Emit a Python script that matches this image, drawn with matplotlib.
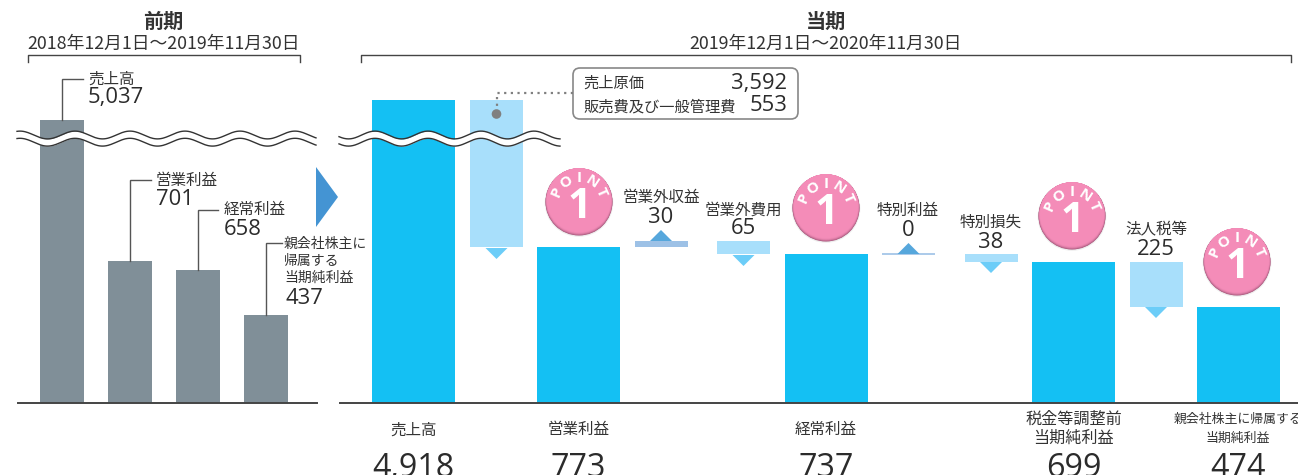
import numpy as np
import matplotlib
matplotlib.use("Agg")
import matplotlib.pyplot as plt
from matplotlib.patches import Polygon, Circle, FancyBboxPatch

JP = ['Noto Sans CJK JP', 'DejaVu Sans']
NUM = ['Open Sans', 'DejaVu Sans']
INK = '#333333'

# ---- data ----
prev_labels = ['売上高', '営業利益', '経常利益', '親会社株主に\n帰属する\n当期純利益']
prev_values = [5037, 701, 658, 437]

total_positions = [0, 2, 5, 8, 10]
total_values = [4918, 773, 737, 699, 474]
total_labels = ['売上高', '営業利益', '経常利益', '税金等調整前\n当期純利益', '親会社株主に帰属する\n当期純利益']

step_positions = [1, 3, 4, 6, 7, 9]
step_values = [-4145, 30, -65, 0, -38, -225]
step_tops = [4918, 803, 803, 737, 737, 699]
step_labels = ['', '営業外収益', '営業外費用', '特別利益', '特別損失', '法人税等']

cost_labels = ['売上原価', '販売費及び一般管理費']
cost_values = [3592, 553]

W, H = 1298, 475
BASE = 403
SCALE = 0.202
fig = plt.figure(figsize=(W / 100, H / 100), dpi=100, facecolor='white')


def broken_axes(x0, x1, value_top, shown_top, xlim):
    brk = 900.0
    k = (shown_top - brk) / (value_top - brk)
    fwd = lambda v: np.where(np.asarray(v, float) <= brk, v, brk + (np.asarray(v, float) - brk) * k)
    inv = lambda v: np.where(np.asarray(v, float) <= brk, v, brk + (np.asarray(v, float) - brk) / k)
    ax = fig.add_axes([x0 / W, 1 - BASE / H, (x1 - x0) / W, BASE / H])
    ax.set_yscale('function', functions=(fwd, inv))
    ax.set_ylim(0, float(inv(BASE / SCALE)))
    ax.set_xlim(*xlim)
    ax.set_xticks([])
    ax.set_yticks([])
    ax.minorticks_off()
    for name, sp in ax.spines.items():
        sp.set_visible(name == 'bottom')
    ax.spines['bottom'].set_color('#444444')
    ax.spines['bottom'].set_linewidth(1.4)
    ax.patch.set_alpha(0)
    return ax


# left axes: bars centred at 62, 130, 198, 266 px
axL = broken_axes(18, 317, 5037, 283 / SCALE, ((18 - 62) / 68, (317 - 62) / 68))
axL.bar(range(4), prev_values, width=44 / 68, color='#808f98')

# right axes: bars centred 413.8 + 82.5 i px
axR = broken_axes(340, 1298, 4918, 303 / SCALE, ((340 - 413.8) / 82.5, (1298 - 413.8) / 82.5))
axR.bar(total_positions, total_values, width=83 / 82.5, color='#14c0f3')
for p, v, t in zip(step_positions, step_values, step_tops):
    up = v > 0
    bottom = t - abs(v)
    col = '#9dc1e6' if (up or v == 0) else '#a8dffb'
    if v == 0:
        axR.plot([p - 0.32, p + 0.32], [t, t], color=col, lw=1.2, solid_capstyle='butt')
    else:
        axR.bar(p, abs(v), bottom=bottom, width=53 / 82.5, color=col)

# overlay in pixel coordinates for annotation furniture
ov = fig.add_axes([0, 0, 1, 1], zorder=5)
ov.set_xlim(0, W)
ov.set_ylim(H, 0)
ov.axis('off')


def label(x, y, s, size=11.2, ha='center', va='center', **kw):
    ov.text(x, y + 0.7, s, fontsize=size, ha=ha, va=va, color=INK, family=JP, **kw)


def number(x, y, v, size=15.8, ha='center'):
    ov.text(x, y, f'{v:,}', fontsize=size, ha=ha, va='baseline', color='#2b2b2b', family=NUM)


def wave(x0, x1, crest, period):
    x = np.linspace(x0, x1, 300)
    s = np.cos(2 * np.pi * (x - crest) / period) * 3.9
    up, lo = 135.0 - s, 142.2 - s
    ov.fill_between(x, up, lo, color='white', lw=0, zorder=3)
    ov.plot(x, up, color='#333333', lw=1.0, zorder=4)
    ov.plot(x, lo, color='#333333', lw=1.0, zorder=4)


wave(17, 316, 20, 55)
wave(339, 560, 375, 53)

# period headers
label(163, 21, '前期', size=14.5, fontweight='bold')
label(164, 43.5, '2018年12月1日〜2019年11月30日', size=12.8)
label(826, 21, '当期', size=14.5, fontweight='bold')
label(826, 43.5, '2019年12月1日〜2020年11月30日', size=12.8)
for a, b in [(28, 300), (361, 1291)]:
    ov.plot([a, a, b, b], [62, 55, 55, 62], color='#444444', lw=1.0)

# previous-year leaders
leaders = [(62, 120, 79, 83), (130, 261, 180, 151), (198, 270, 210, 218), (266, 315, 243, 282)]
for x, y0, y1, x1 in leaders:
    ov.plot([x, x, x1], [y0, y1, y1], color='#555555', lw=1.0, solid_joinstyle='miter')
label(88, 78, prev_labels[0], ha='left')
number(88, 103, prev_values[0], ha='left')
label(156, 180, prev_labels[1], ha='left')
number(156, 205, prev_values[1], ha='left')
label(224, 209, prev_labels[2], ha='left')
number(224, 235, prev_values[2], ha='left')
for yy, s in zip([243, 260, 277], prev_labels[3].split('\n')):
    label(284, yy, s, size=10, ha='left')
number(285, 304, prev_values[3], ha='left')

# change arrow
ov.add_patch(Polygon([(316, 167), (338, 197), (316, 227)], fc='#4494d3', ec='none'))

# callout
ov.add_patch(FancyBboxPatch((577, 72), 217, 43, boxstyle='round,pad=4,rounding_size=7',
                            fc='white', ec='#888888', lw=1.2, mutation_aspect=1))
label(583, 83, cost_labels[0], ha='left', size=11)
label(583, 106, cost_labels[1], ha='left', size=11)
number(787, 89, cost_values[0], ha='right')
number(787, 111, cost_values[1], ha='right')
ov.plot([573, 496.5, 496.5], [92.5, 92.5, 110], color='#808080', lw=1.6, ls=(0, (1, 2)))
ov.add_patch(Circle((496.5, 114), 4.8, fc='#808080', ec='none'))

# step labels and triangles
step_text = [(661, 197, 223), (743, 209, 234), (908, 210, 236), (991, 222, 248), (1156, 229, 255)]
for (x, y, yb), s, v in zip(step_text, step_labels[1:], step_values[1:]):
    label(x, y, s)
    number(x, yb, abs(v))
tri_down = [(496.5, 248), (743.5, 255), (991, 262), (1156, 307)]
for x, y in tri_down:
    ov.add_patch(Polygon([(x - 11, y), (x + 11, y), (x, y + 11)], fc='#6ccdf8', ec='none'))
tri_up = [(661, 241), (908.5, 254)]
for x, y in tri_up:
    ov.add_patch(Polygon([(x - 11, y), (x + 11, y), (x, y - 11)], fc='#56a7dc', ec='none'))

# bottom totals
centres = [413.5, 578.5, 826, 1073.5, 1238]
for x, s, v in zip(centres, total_labels, total_values):
    parts = s.split('\n')
    if len(parts) == 1:
        label(x, 429, parts[0])
    else:
        fs = 9.3 if len(parts[0]) > 6 else 11.6
        label(x, 419, parts[0], size=fs)
        label(x, 438, parts[1], size=fs if fs < 10 else 11.6)
    number(x, 477, v, size=23.2)


# POINT 1 badges
def badge(cx, cy):
    r = 33.5
    c0 = np.array(matplotlib.colors.to_rgb('#f48cb8'))
    c1 = np.array(matplotlib.colors.to_rgb('#a85a7e'))
    ov.add_patch(Circle((cx, cy + 0.5), r + 0.8, fc='#dddddd', ec='none', alpha=0.5))
    n = 12
    for i in range(n):
        t = i / (n - 1)
        ov.add_patch(Circle((cx, cy - 2.0 * t), r - 1.6 * t,
                            fc=tuple(c1 * (1 - t) ** 2 + c0 * (1 - (1 - t) ** 2)), ec='none'))
    for ch, a in zip('POINT', [-66, -33, 0, 33, 66]):
        th = np.radians(a)
        ov.text(cx + 24 * np.sin(th), cy - 24 * np.cos(th), ch, color='white', fontsize=11,
                family=NUM, fontweight='bold', ha='center', va='center', rotation=-a,
                rotation_mode='anchor')
    ov.text(cx, cy + 6, '1', color='white', fontsize=30, family=NUM, fontweight='bold',
            ha='center', va='center')


for cx, cy in [(579, 202), (826, 208), (1072, 216), (1237, 262)]:
    badge(cx, cy)

fig.savefig('out.png', dpi=100)
